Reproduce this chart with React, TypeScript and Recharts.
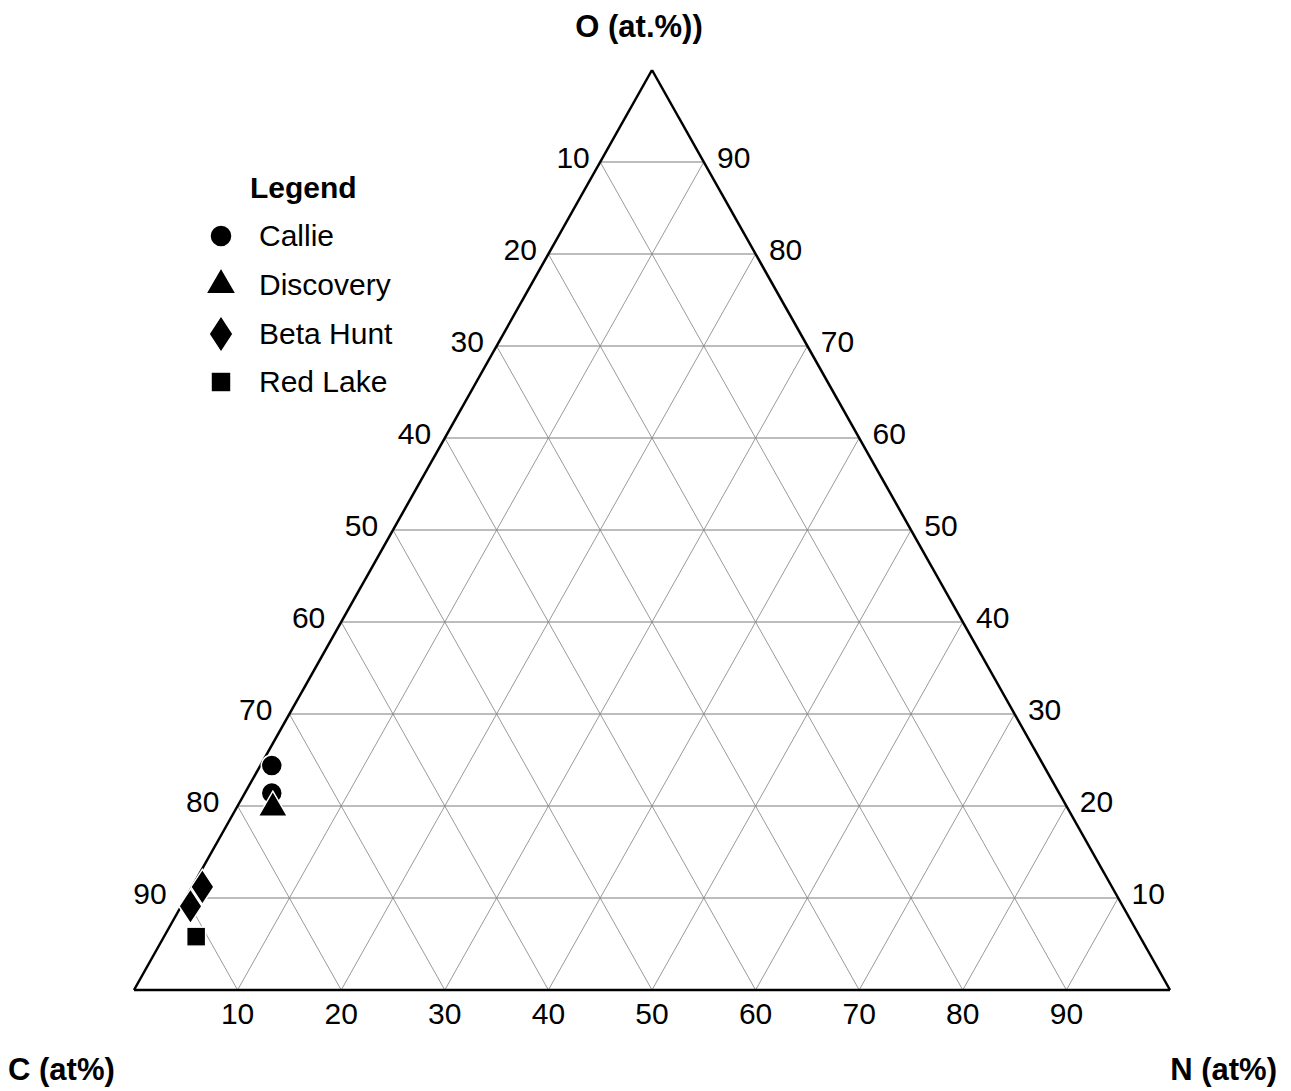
import React from "react";
import { ScatterChart, Scatter, XAxis, YAxis, ReferenceLine, Legend } from "recharts";

// ternary grid levels (%)
const levels = [10, 20, 30, 40, 50, 60, 70, 80, 90];

// samples: O and N in at.% (C = 100 - O - N)
const callieO = [24.4, 21.4];
const callieN = [1.1, 2.6];
const discoveryO = [19.8];
const discoveryN = [3.5];
const betaHuntO = [11.2, 9.1];
const betaHuntN = [1.0, 0.9];
const redLakeO = [5.8];
const redLakeN = [3.1];

const seriesNames = ["Callie", "Discovery", "Beta Hunt", "Red Lake"];

const FONT = "Arial, 'Liberation Sans', Helvetica, sans-serif";
const FS = 30;

// ternary (O, N) -> cartesian, base 0..100, apex at y = 100
const toXY = (o: number, n: number) => ({ x: n + o / 2, y: o });
const build = (os: number[], ns: number[]) => os.map((o, i) => toXY(o, ns[i]));

const callie = build(callieO, callieN);
const discovery = build(discoveryO, discoveryN);
const betaHunt = build(betaHuntO, betaHuntN);
const redLake = build(redLakeO, redLakeN);

// tick label positions on each edge
const leftLabels = levels.map((o) => ({ x: o / 2, y: o, label: String(100 - o), side: "left" }));
const rightLabels = levels.map((o) => ({ x: 100 - o / 2, y: o, label: String(o), side: "right" }));
const bottomLabels = levels.map((n) => ({ x: n, y: 0, label: String(n), side: "bottom" }));

type Pt = { x: number; y: number };
const flatSegments: [Pt, Pt][] = [];
const slantSegments: [Pt, Pt][] = [];
levels.forEach((k) => {
  flatSegments.push([{ x: k / 2, y: k }, { x: 100 - k / 2, y: k }]); // constant O
  slantSegments.push([{ x: k, y: 0 }, { x: k + (100 - k) / 2, y: 100 - k }]); // constant N
  slantSegments.push([{ x: 100 - k, y: 0 }, { x: (100 - k) / 2, y: 100 - k }]); // constant C
});
const border: [Pt, Pt][] = [
  [{ x: 0, y: 0 }, { x: 100, y: 0 }],
  [{ x: 0, y: 0 }, { x: 50, y: 100 }],
  [{ x: 50, y: 100 }, { x: 100, y: 0 }],
];

const Marker = ({ kind, cx, cy, scale = 1 }: { kind: string; cx: number; cy: number; scale?: number }) => {
  const s = scale;
  const stroke = { stroke: "#fff", strokeWidth: 1.5 };
  if (kind === "Callie") return <circle cx={cx} cy={cy} r={10.5 * s} fill="#000" {...stroke} />;
  if (kind === "Discovery") {
    const w = 14.5 * s;
    const h = 25 * s;
    return (
      <polygon
        points={`${cx},${cy - (h * 2) / 3} ${cx + w},${cy + h / 3} ${cx - w},${cy + h / 3}`}
        fill="#000"
        {...stroke}
      />
    );
  }
  if (kind === "Beta Hunt") {
    const w = 11.5 * s;
    const h = 17.5 * s;
    return (
      <polygon
        points={`${cx},${cy - h} ${cx + w},${cy} ${cx},${cy + h} ${cx - w},${cy}`}
        fill="#000"
        {...stroke}
      />
    );
  }
  const a = 9.5 * s;
  return <rect x={cx - a} y={cy - a} width={2 * a} height={2 * a} fill="#000" {...stroke} />;
};

const TickText = (props: any) => {
  const { cx, cy, payload } = props;
  let x = cx;
  let y = cy;
  if (payload.side === "left") {
    x = cx - (37 - payload.y * 0.11);
    y = cy - 5;
  } else if (payload.side === "right") {
    x = cx + 30;
    y = cy - 5;
  } else {
    y = cy + 23;
  }
  return (
    <text x={x} y={y} textAnchor="middle" dominantBaseline="central" fontSize={FS} fontFamily={FONT} fill="#000">
      {payload.label}
    </text>
  );
};

const LegendBox = () => (
  <div style={{ fontFamily: FONT, fontSize: FS, color: "#000", width: 260 }}>
    <div style={{ height: 48, lineHeight: "48px", paddingLeft: 50, fontWeight: "bold" }}>Legend</div>
    {seriesNames.map((name) => (
      <div key={name} style={{ height: 48.7, display: "flex", alignItems: "center" }}>
        <svg width={42} height={44} style={{ flex: "none" }}>
          <Marker kind={name} cx={21} cy={22} scale={1.05} />
        </svg>
        <span style={{ marginLeft: 17 }}>{name}</span>
      </div>
    ))}
  </div>
);

export default function App() {
  return (
    <div style={{ position: "absolute", left: 0, top: 0, width: 1291, height: 1091, background: "#fff" }}>
      <ScatterChart width={1291} height={1091} margin={{ top: 70, right: 121, bottom: 101, left: 134 }}>
        <XAxis type="number" dataKey="x" domain={[0, 100]} hide />
        <YAxis type="number" dataKey="y" domain={[0, 100]} hide />
        {slantSegments.map((seg, i) => (
          <ReferenceLine key={`s${i}`} segment={seg} stroke="#9a9a9a" strokeWidth={1} ifOverflow="visible" />
        ))}
        {flatSegments.map((seg, i) => (
          <ReferenceLine key={`f${i}`} segment={seg} stroke="#7a7a7a" strokeWidth={1} ifOverflow="visible" />
        ))}
        {border.map((seg, i) => (
          <ReferenceLine key={`b${i}`} segment={seg} stroke="#000" strokeWidth={2.5} ifOverflow="visible" />
        ))}
        <Scatter name="left" data={leftLabels} shape={TickText} isAnimationActive={false} legendType="none" />
        <Scatter name="right" data={rightLabels} shape={TickText} isAnimationActive={false} legendType="none" />
        <Scatter name="bottom" data={bottomLabels} shape={TickText} isAnimationActive={false} legendType="none" />
        <Scatter
          name="Callie"
          data={callie}
          isAnimationActive={false}
          shape={(p: any) => <Marker kind="Callie" cx={p.cx} cy={p.cy} />}
        />
        <Scatter
          name="Discovery"
          data={discovery}
          isAnimationActive={false}
          shape={(p: any) => <Marker kind="Discovery" cx={p.cx} cy={p.cy} />}
        />
        <Scatter
          name="Beta Hunt"
          data={betaHunt}
          isAnimationActive={false}
          shape={(p: any) => <Marker kind="Beta Hunt" cx={p.cx} cy={p.cy} />}
        />
        <Scatter
          name="Red Lake"
          data={redLake}
          isAnimationActive={false}
          shape={(p: any) => <Marker kind="Red Lake" cx={p.cx} cy={p.cy} />}
        />
        <Legend
          content={() => <LegendBox />}
          wrapperStyle={{ position: "absolute", left: 200, top: 164, width: 260, height: 0, overflow: "visible" }}
        />
      </ScatterChart>
      <div
        style={{
          position: "absolute",
          left: 0,
          width: 1278,
          top: 9,
          textAlign: "center",
          fontFamily: FONT,
          fontWeight: "bold",
          fontSize: 31,
        }}
      >
        O (at.%))
      </div>
      <div style={{ position: "absolute", left: 8, top: 1052, fontFamily: FONT, fontWeight: "bold", fontSize: 31 }}>
        C (at%)
      </div>
      <div style={{ position: "absolute", right: 14, top: 1052, fontFamily: FONT, fontWeight: "bold", fontSize: 31 }}>
        N (at%)
      </div>
    </div>
  );
}
